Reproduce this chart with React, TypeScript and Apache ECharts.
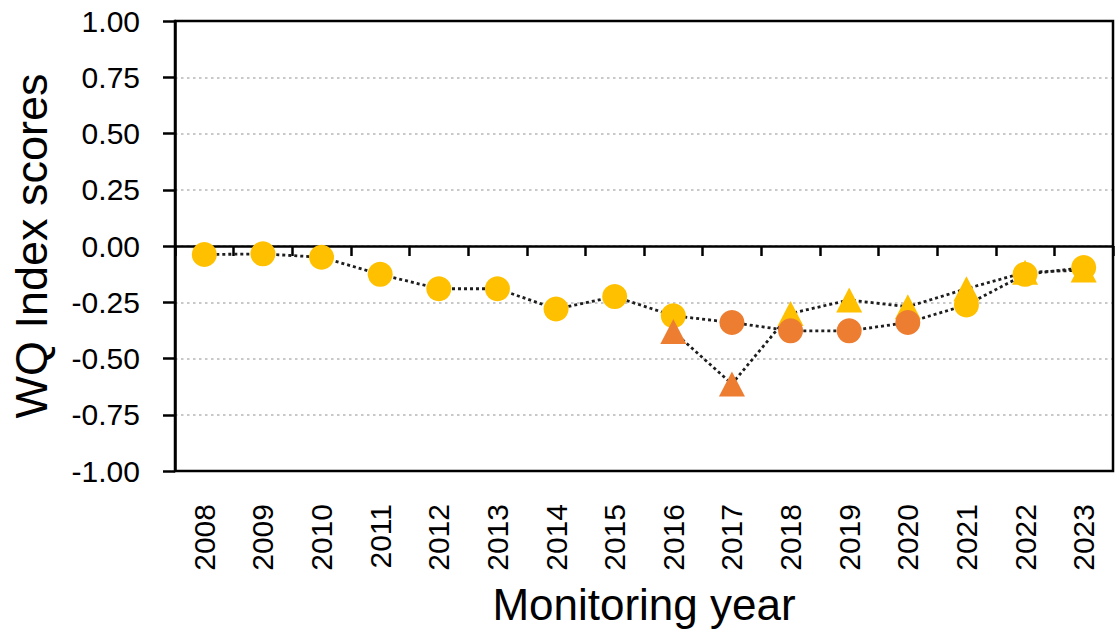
import React, { useEffect, useRef } from "react";
import * as echarts from "echarts";

const years = ["2008", "2009", "2010", "2011", "2012", "2013", "2014", "2015", "2016", "2017", "2018", "2019", "2020", "2021", "2022", "2023"];
// WQ index scores, circle marker series
const circleScores = [-0.038, -0.035, -0.05, -0.126, -0.19, -0.19, -0.28, -0.225, -0.31, -0.34, -0.377, -0.377, -0.34, -0.262, -0.126, -0.096];
// category of each circle point: "a" (yellow) or "b" (orange)
const circleGrade = ["a", "a", "a", "a", "a", "a", "a", "a", "a", "b", "b", "b", "b", "a", "a", "a"];
// triangle marker series (starts in 2016)
const triangleScores: (number | null)[] = [null, null, null, null, null, null, null, null, -0.38, -0.613, -0.3, -0.24, -0.27, -0.19, -0.117, -0.107];
const triangleGrade = ["", "", "", "", "", "", "", "", "b", "b", "a", "a", "a", "a", "a", "a"];
const yTicks = [-1, -0.75, -0.5, -0.25, 0, 0.25, 0.5, 0.75, 1];

const YELLOW = "#FFC000";
const ORANGE = "#ED7D31";
const FONT = "'Liberation Sans', Arial, sans-serif";

function pick(vals: (number | null)[], grades: string[], g: string) {
  return vals.map((v, i) => (v !== null && grades[i] === g ? v : "-"));
}

export default function App() {
  const ref = useRef<HTMLDivElement>(null);
  useEffect(() => {
    if (!ref.current) return;
    const chart = echarts.init(ref.current, null, { renderer: "svg" });
    const dotted = { color: "#1e1e1e", width: 2.8, type: [3, 3] as number[] };
    chart.setOption({
      animation: false,
      backgroundColor: "#ffffff",
      textStyle: { fontFamily: FONT },
      grid: {
        left: 175, right: 6, top: 21, bottom: 168, show: true, borderColor: "#000", borderWidth: 2.5,
        containLabel: false, outerBoundsMode: "none", z: 3,
      },
      xAxis: [
        {
          type: "category",
          data: years,
          position: "bottom",
          axisLine: { show: false, onZero: false },
          axisTick: { show: false },
          axisLabel: { rotate: 90, fontSize: 30, color: "#000", margin: 33, fontFamily: FONT },
          name: "Monitoring year",
          nameLocation: "middle",
          nameGap: 111,
          nameTextStyle: { fontSize: 44, color: "#000", fontFamily: FONT },
          splitLine: { show: false },
        },
        {
          type: "category",
          data: years,
          position: "top",
          axisLine: { show: true, onZero: true, onZeroAxisIndex: 0, lineStyle: { color: "#000", width: 2.5 } },
          axisTick: { show: true, inside: true, length: 10, lineStyle: { color: "#000", width: 2.5 } },
          axisLabel: { show: false },
          splitLine: { show: false },
        },
      ],
      yAxis: {
        type: "value",
        min: yTicks[0],
        max: yTicks[yTicks.length - 1],
        interval: 0.25,
        axisLine: { show: true, lineStyle: { color: "#000", width: 2.5 } },
        axisTick: { show: true, length: 12, lineStyle: { color: "#000", width: 2.5 } },
        axisLabel: { fontSize: 30, color: "#000", margin: 35, fontFamily: FONT, formatter: (v: number) => v.toFixed(2) },
        splitLine: { show: true, lineStyle: { color: "#c8c8c8", width: 2, type: [2.5, 3.5] } },
        name: "WQ Index scores",
        nameLocation: "middle",
        nameGap: 121,
        nameTextStyle: { fontSize: 45, color: "#000", fontFamily: FONT },
      },
      series: [
        { type: "line", data: circleScores, symbol: "none", lineStyle: dotted, z: 2 },
        { type: "line", data: triangleScores.map((v) => (v === null ? "-" : v)), symbol: "none", lineStyle: dotted, z: 2 },
        { type: "scatter", data: pick(triangleScores, triangleGrade, "a"), symbol: "triangle", symbolSize: [26, 25], itemStyle: { color: YELLOW, opacity: 1 }, z: 3 },
        { type: "scatter", data: pick(circleScores, circleGrade, "a"), symbol: "circle", symbolSize: 25, itemStyle: { color: YELLOW, opacity: 1 }, z: 4 },
        { type: "scatter", data: pick(triangleScores, triangleGrade, "b"), symbol: "triangle", symbolSize: [26, 25], itemStyle: { color: ORANGE, opacity: 1 }, z: 5 },
        { type: "scatter", data: pick(circleScores, circleGrade, "b"), symbol: "circle", symbolSize: 25, itemStyle: { color: ORANGE, opacity: 1 }, z: 6 },
      ],
    });
    return () => chart.dispose();
  }, []);
  return <div ref={ref} style={{ position: "fixed", left: 0, top: 0, width: 1119, height: 639 }} />;
}
